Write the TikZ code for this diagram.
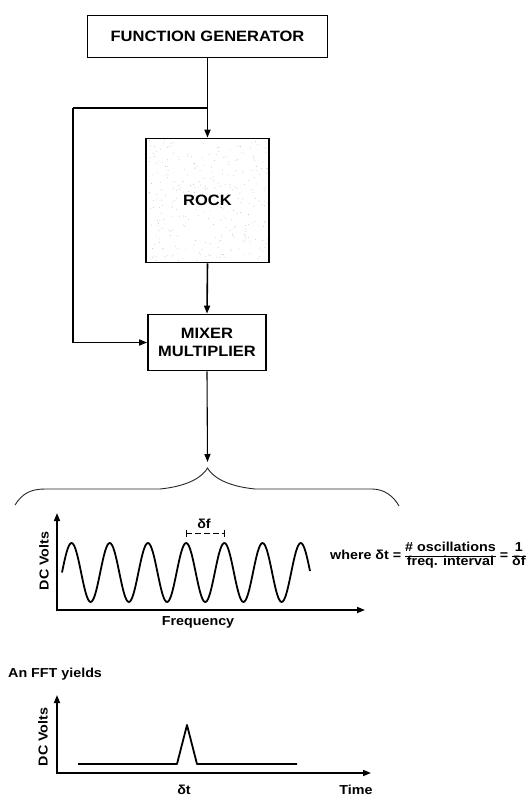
\documentclass[tikz,border=0pt]{standalone}
\usepackage{fontspec}
\setmainfont{Liberation Sans}[FakeStretch=1.1]
\usetikzlibrary{arrows.meta}
\tikzset{
  box/.style={draw, line width=1.7pt, font=\fontsize{15}{18}\selectfont\bfseries, align=center, inner sep=0pt},
  conn/.style={line width=1.6pt, -{Triangle[length=8pt,width=6pt]}},
  thinconn/.style={line width=1.1pt, -{Triangle[length=8pt,width=6pt]}},
  axis/.style={line width=1.6pt, {Triangle[length=8pt,width=6pt]}-{Triangle[length=8pt,width=6pt]}},
  lab/.style={font=\fontsize{13}{14}\selectfont\bfseries, inner sep=0pt},
  wave/.style={line width=1.8pt, line join=round},
  brace/.style={line width=0.9pt, black!85},
}
\begin{document}
\begin{tikzpicture}[x=1pt,y=-1pt]
\useasboundingbox (0,0) rectangle (532,796);
% rock stipple
\pgfmathsetseed{42}
\foreach \i in {1,...,300}{
  \fill[gray!50] ({148+120*rnd},{140+121*rnd}) circle[radius=0.45pt];
}
% blocks
\node[box, minimum width=240pt, minimum height=42pt] (fg) at (207.5,36.5) {FUNCTION GENERATOR};
\node[box, minimum width=123pt, minimum height=124pt] (rock) at (207.5,200.5) {ROCK};
\node[box, minimum width=118pt, minimum height=56pt] (mix) at (207,342.5) {MIXER\\MULTIPLIER};
% connectors
\coordinate (br) at (207.5,108);
\coordinate (lc) at (73,108);
\coordinate (bt) at (207.5,462);
\draw[conn] (fg.south) -- (rock.north);
\draw[line width=1.6pt] (br) -- (lc);
\draw[conn] (lc) |- (mix.west);
\draw[conn] (rock.south) -- (mix.north);
\draw[thinconn] (mix.south) -- (bt);
% brace
\draw[brace] (15,505) .. controls (22,494) and (30,489) .. (45,489) -- (160,489)
  .. controls (190,486) and (203,476) .. (207.5,468)
  .. controls (212,476) and (225,486) .. (255,489) -- (372,489)
  .. controls (385,489) and (394,497) .. (399,506);
% top graph
\coordinate (ty) at (57,513);
\coordinate (to) at (57,610);
\coordinate (tx) at (365,610);
\draw[axis] (ty) -- (to) -- (tx);
\draw[wave] plot[domain=62:310, samples=220, smooth] (\x, {572.5-29.5*sin((\x-62)/38.2*360)});
\coordinate (d1) at (186,533);
\coordinate (d2) at (224,533);
\draw[line width=0.8pt] (186,529.5) -- (186,536.5) (224,529.5) -- (224,536.5);
\draw[line width=0.8pt, dash pattern=on 6pt off 3pt] (d1) -- (d2);
\node[lab] (df) at (204,524) {δf};
\node[lab, rotate=90] (dcv1) at (44,561) {DC Volts};
\node[lab] (freq) at (198,622.5) {Frequency};
\renewcommand\arraystretch{0.92}
\node[lab, anchor=west] (eq) at (330,556) {where δt = \begin{tabular}{@{}c@{}}\# oscillations\\\hline freq. interval\end{tabular} = \begin{tabular}{@{}c@{}}1\\\hline δf\end{tabular}};
% FFT
\node[lab, anchor=west] (fft) at (8,674) {An FFT yields};
\coordinate (by) at (57,695);
\coordinate (bo) at (57,773);
\coordinate (bx) at (371,773);
\draw[axis] (by) -- (bo) -- (bx);
\draw[wave] (78,764) -- (177,764) -- (187,725) -- (197,764) -- (297,764);
\node[lab, rotate=90] (dcv2) at (43,737) {DC Volts};
\node[lab] (dt) at (184,790) {δt};
\node[lab] (time) at (356,790) {Time};
\end{tikzpicture}
\end{document}
